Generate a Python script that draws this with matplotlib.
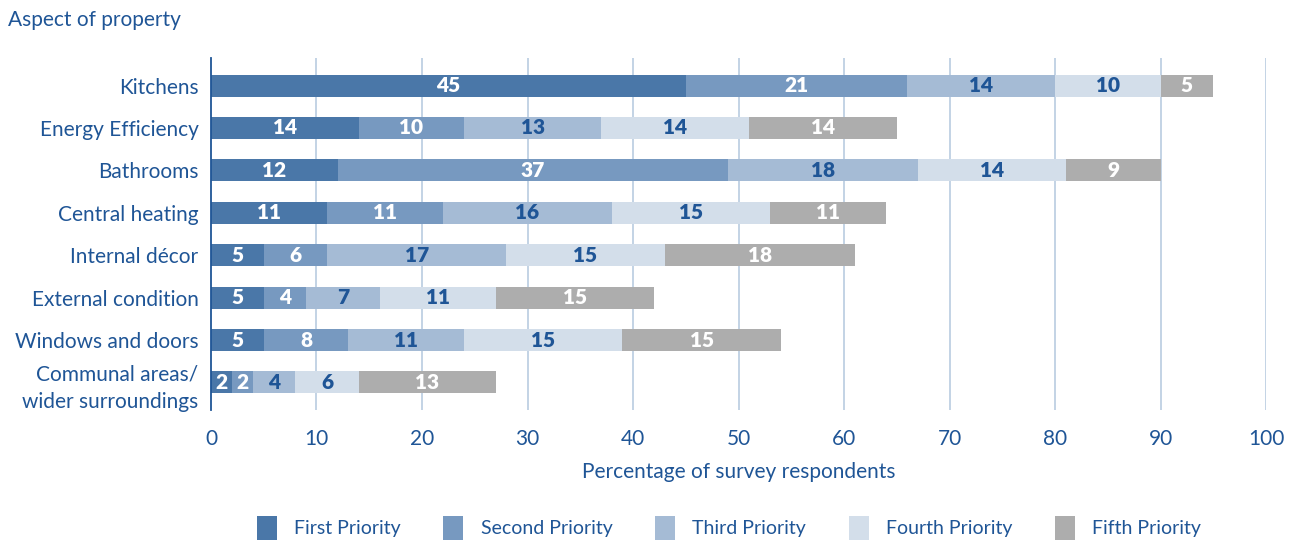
import numpy as np
import matplotlib
matplotlib.use('Agg')
import matplotlib.pyplot as plt
from matplotlib.patches import Patch

plt.rcParams['font.family'] = ['Lato', 'DejaVu Sans']

aspects = ['Kitchens', 'Energy Efficiency', 'Bathrooms', 'Central heating',
           'Internal décor', 'External condition', 'Windows and doors',
           'Communal areas/\nwider surroundings']
priorities = ['First Priority', 'Second Priority', 'Third Priority',
              'Fourth Priority', 'Fifth Priority']

first = [45, 14, 12, 11, 5, 5, 5, 2]
second = [21, 10, 37, 11, 6, 4, 8, 2]
third = [14, 13, 18, 16, 17, 7, 11, 4]
fourth = [10, 14, 14, 15, 15, 11, 15, 6]
fifth = [5, 14, 9, 11, 18, 15, 15, 13]

bar_colors = ['#4a77a8', '#7799c0', '#a5bbd5', '#d3deea', '#adadad']
label_colors = ['white', 'white', '#1f5596', '#1f5596', 'white']
text_blue = '#1f5596'
grid_blue = '#b9cce0'

fig = plt.figure(figsize=(12.96, 5.42), dpi=100)
ax = fig.add_axes([0.1628, 0.2435, 0.8141, 0.6495])

y = np.arange(len(aspects))
left = np.zeros(len(aspects))
for vals, col, lcol in zip([first, second, third, fourth, fifth],
                           bar_colors, label_colors):
    vals = np.array(vals, dtype=float)
    bars = ax.barh(y, vals, left=left, height=0.52, color=col, zorder=3)
    ax.bar_label(bars, labels=[str(int(v)) for v in vals], label_type='center',
                 color=lcol, fontsize=15, fontweight='heavy')
    left += vals

ax.set_xlim(0, 100)
ax.set_ylim(len(aspects) - 0.35, -0.65)
ax.set_xticks(np.arange(0, 101, 10))
ax.set_yticks(y)
ax.set_yticklabels(aspects)
ax.tick_params(axis='y', length=0, pad=9, labelsize=15, labelcolor=text_blue)
ax.tick_params(axis='x', length=0, pad=14, labelsize=15, labelcolor=text_blue)
for t in ax.get_yticklabels():
    t.set_linespacing(1.45)

for xv in range(10, 101, 10):
    ax.axvline(xv, color=grid_blue, lw=1.2, zorder=1)

for s in ['top', 'right', 'bottom']:
    ax.spines[s].set_visible(False)
ax.spines['left'].set_color(text_blue)
ax.spines['left'].set_linewidth(1.3)
ax.spines['left'].set_zorder(4)

ax.set_xlabel('Percentage of survey respondents', fontsize=15,
              color=text_blue, labelpad=9)
fig.text(0.006, 0.963, 'Aspect of property', fontsize=15, color=text_blue,
         ha='left', va='center')

handles = [Patch(facecolor=c, edgecolor='none') for c in bar_colors]
leg = fig.legend(handles, priorities, loc='center', bbox_to_anchor=(0.5625, 0.026),
                 ncol=5, frameon=False, fontsize=14, handlelength=1.03,
                 handleheight=1.5, handletextpad=0.88, columnspacing=2.2)
for t in leg.get_texts():
    t.set_color(text_blue)

fig.savefig('out.png', dpi=100)
